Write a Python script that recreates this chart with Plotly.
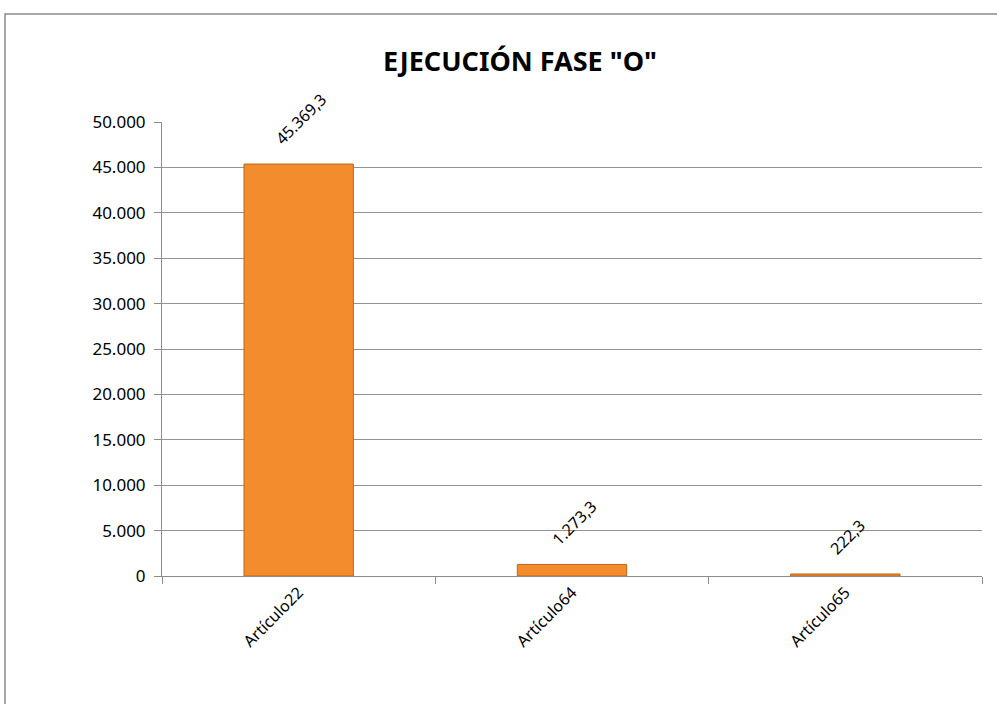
import plotly.graph_objects as go

categories = ["Artículo22", "Artículo64", "Artículo65"]
values = [45369.3, 1273.3, 222.3]
y_ticks = [0, 5000, 10000, 15000, 20000, 25000, 30000, 35000, 40000, 45000, 50000]
title_text = 'EJECUCIÓN FASE "O"'


def fmt_es(v):
    s = f"{v:,.1f}"
    return s.replace(",", "X").replace(".", ",").replace("X", ".")


def fmt_tick(v):
    return f"{v:,.0f}".replace(",", ".")


fig = go.Figure()
fig.add_trace(go.Bar(
    x=categories, y=values,
    width=0.4,
    marker=dict(color="#F28C2C", line=dict(color="#BF6519", width=1)),
    hoverinfo="skip",
))

for c, v in zip(categories, values):
    fig.add_annotation(
        x=c, y=v, xref="x", yref="y",
        text=fmt_es(v), showarrow=False, textangle=-45,
        xanchor="center", yanchor="bottom", yshift=12, xshift=2,
        font=dict(family="Noto Sans, sans-serif", size=16, color="#000000"),
    )

L, R, T, B = 162, 15, 122, 128
W, H = 997, 704
pw = W - L - R
ph = H - T - B

fig.add_shape(
    type="rect", xref="paper", yref="paper", layer="below",
    x0=(5 - L) / pw, x1=(1010 - L) / pw,
    y0=-(720 - (H - B)) / ph, y1=((H - B) - 14) / ph,
    line=dict(color="#8C8C8C", width=1.5), fillcolor="rgba(0,0,0,0)",
)

fig.update_layout(
    width=W, height=H,
    margin=dict(l=L, r=R, t=T, b=B),
    paper_bgcolor="white", plot_bgcolor="white",
    showlegend=False,
    title=dict(text="<b>" + title_text + "</b>", x=520 / W, xanchor="center",
               y=1 - 62 / H, yanchor="middle",
               font=dict(family="Noto Sans, sans-serif", size=27, color="#000000")),
    font=dict(family="Noto Sans, sans-serif", size=16, color="#000000"),
)

fig.update_xaxes(
    type="category", showline=True, linecolor="#8C8C8C", linewidth=1,
    ticks="outside", tickson="boundaries", ticklen=7, tickcolor="#8C8C8C",
    tickangle=-45, showgrid=False, tickfont=dict(size=16),
)
fig.update_yaxes(
    range=[0, 50000], tickvals=y_ticks, ticktext=[fmt_tick(v) for v in y_ticks],
    showline=True, linecolor="#8C8C8C", linewidth=1,
    ticks="outside", ticklen=7, tickcolor="#8C8C8C",
    showgrid=True, gridcolor="#939393", gridwidth=1,
    zeroline=False, tickfont=dict(size=17), ticklabelstandoff=5,
)

fig.write_html("out.html", config={"displayModeBar": False},
               post_script="document.body.style.margin='0px';document.body.style.overflow='hidden';")
